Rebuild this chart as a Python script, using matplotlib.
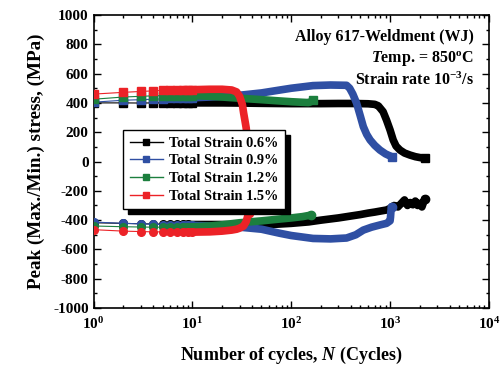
#!/usr/bin/env python3
"""
Peak (max/min) stress vs number of cycles for Alloy 617 weldment at 850 C.
Writes out.png.
"""

import matplotlib

matplotlib.use("Agg")
import matplotlib.pyplot as plt  # noqa: E402
from matplotlib.lines import Line2D  # noqa: E402
from matplotlib.ticker import MultipleLocator, LogLocator  # noqa: E402

# --- data ---
labels = ["Total Strain 0.6%", "Total Strain 0.9%", "Total Strain 1.2%", "Total Strain 1.5%"]
colors = ["#000000", "#2f4fa3", "#1c7f3e", "#ec2227"]

# 0.6 %
n_06_max = [1, 2, 3, 4, 5, 6, 7, 8, 9, 10, 15, 20, 30, 50, 70, 100, 150, 200, 300, 400, 500,
            600, 700, 760, 850, 920, 1000, 1075, 1150, 1260, 1400, 1590, 1800, 2000, 2240]
s_06_max = [400, 400, 399, 400, 400, 400, 400, 400, 400, 400, 400, 400, 399, 397, 396, 395, 395,
            395, 396, 396, 395, 394, 390, 380, 340, 283, 215, 147, 105, 78, 58, 44, 33, 27, 22]
n_06_min = [1, 2, 3, 4, 5, 6, 7, 8, 9, 10, 15, 20, 30, 50, 70, 100, 150, 200, 300, 400, 500,
            600, 700, 800, 920, 1000, 1100, 1200, 1300, 1400, 1500, 1600, 1700, 1800, 1900,
            2000, 2100, 2240]
s_06_min = [-418, -422, -425, -426, -427, -428, -428, -429, -429, -430, -430, -430, -430, -430,
            -428, -422, -412, -400, -385, -372, -362, -352, -345, -338, -331, -320, -300, -310,
            -285, -262, -300, -280, -295, -270, -300, -285, -310, -255]

# 0.9 %
n_09_max = [1, 2, 3, 4, 5, 6, 7, 8, 9, 10, 15, 20, 30, 50, 77, 100, 166, 250, 363, 390, 420,
            458, 500, 536, 580, 628, 700, 790, 900, 1035]
s_09_max = [405, 418, 422, 425, 428, 430, 431, 432, 433, 435, 440, 445, 452, 468, 488, 500, 518,
            522, 520, 500, 460, 399, 310, 238, 185, 147, 110, 78, 52, 33]
n_09_min = [1, 2, 3, 4, 5, 6, 7, 8, 9, 10, 15, 20, 30, 50, 77, 100, 166, 250, 363, 450, 536,
            650, 800, 920, 1000, 1010, 1020, 1035]
s_09_min = [-413, -422, -425, -428, -430, -432, -433, -434, -435, -436, -440, -443, -448, -462,
            -490, -505, -525, -528, -522, -500, -468, -448, -432, -422, -405, -380, -340, -308]

# 1.2 %
n_12_max = [1, 2, 3, 4, 5, 6, 7, 8, 9, 10, 15, 20, 30, 50, 70, 100, 130, 150, 160, 167]
s_12_max = [425, 440, 445, 448, 450, 450, 450, 450, 450, 450, 445, 440, 432, 422, 415, 408, 404,
            402, 410, 420]
n_12_min = [1, 2, 3, 4, 5, 6, 7, 8, 9, 10, 15, 20, 30, 50, 70, 100, 130, 160]
s_12_min = [-440, -445, -447, -448, -448, -448, -448, -447, -447, -446, -440, -432, -418, -405,
            -395, -385, -376, -365]

# 1.5 %
n_15_max = [1, 2, 3, 4, 5, 6, 7, 8, 9, 10, 15, 20, 25, 28, 30, 32, 33, 34, 35, 36]
s_15_max = [460, 472, 478, 482, 485, 487, 488, 490, 490, 490, 493, 493, 488, 475, 445, 390, 330,
            280, 230, 150]
n_15_min = [1, 2, 3, 4, 5, 6, 7, 8, 9, 10, 15, 20, 25, 28, 30, 33, 35, 37]
s_15_min = [-465, -475, -478, -480, -480, -481, -481, -482, -482, -482, -480, -475, -468, -462,
            -455, -440, -410, -352]

series_max = [(n_06_max, s_06_max), (n_09_max, s_09_max), (n_12_max, s_12_max), (n_15_max, s_15_max)]
series_min = [(n_06_min, s_06_min), (n_09_min, s_09_min), (n_12_min, s_12_min), (n_15_min, s_15_min)]

SERIF = ["Liberation Serif", "DejaVu Serif"]
plt.rcParams["font.family"] = SERIF
plt.rcParams["font.weight"] = "bold"
plt.rcParams["axes.unicode_minus"] = False
plt.rcParams["mathtext.fontset"] = "custom"
plt.rcParams["mathtext.rm"] = "Liberation Serif:bold"
plt.rcParams["mathtext.it"] = "Liberation Serif:bold:italic"
plt.rcParams["mathtext.bf"] = "Liberation Serif:bold"


def draw_series(ax, n, s, color, marker):
    # separate markers only where cycles are still sparse (N <= 10)
    sparse_n = [x for x in n if x <= 10]
    sparse_s = [y for x, y in zip(n, s) if x <= 10]
    ax.plot(sparse_n, sparse_s, color=color, lw=0.8, marker=marker, ms=5.5,
            mec=color, mfc=color, zorder=3)
    # after that the dense markers merge into a thick band
    dense_n = [x for x in n if x >= 8]
    dense_s = [y for x, y in zip(n, s) if x >= 8]
    ax.plot(dense_n, dense_s, color=color, lw=5.5, solid_capstyle="round",
            solid_joinstyle="round", zorder=3)
    # last recorded cycle
    ax.plot(n[-1:], s[-1:], ls="none", marker=marker, ms=6, mec=color, mfc=color, zorder=3)


fig = plt.figure(figsize=(5.03, 3.65), dpi=100)
ax = fig.add_axes([0.186, 0.156, 0.786, 0.803])

for (n, s), c in zip(series_max, colors):
    draw_series(ax, n, s, c, "s")
for (n, s), c in zip(series_min, colors):
    draw_series(ax, n, s, c, "o")

ax.set_xscale("log")
ax.set_xlim(1, 1e4)
ax.set_ylim(-1000, 1000)
ax.yaxis.set_major_locator(MultipleLocator(200))
ax.yaxis.set_minor_locator(MultipleLocator(100))
ax.xaxis.set_major_locator(LogLocator(base=10, numticks=10))
ax.xaxis.set_minor_locator(LogLocator(base=10, subs=range(2, 10), numticks=20))
ax.tick_params(which="both", direction="in", top=True, right=True, width=1.0)
ax.tick_params(which="major", length=5, labelsize=11)
ax.tick_params(axis="x", which="major", pad=6)
ax.tick_params(which="minor", length=2.5)
for lab in ax.get_yticklabels():
    lab.set_fontweight("bold")
for sp in ax.spines.values():
    sp.set_linewidth(1.2)

ax.set_xlabel("Number of cycles, $\\mathit{N}$ (Cycles)", fontsize=13, fontweight="bold", labelpad=9)
ax.set_ylabel("Peak (Max./Min.) stress, (MPa)", fontsize=13.8, fontweight="bold", labelpad=6)

ax.text(0.962, 0.925, "Alloy 617-Weldment (WJ)", transform=ax.transAxes, ha="right",
        va="center", fontsize=11.5, fontweight="bold")
ax.text(0.962, 0.848, "$\\mathit{T}$emp. = 850$^{\\mathrm{o}}$C", transform=ax.transAxes, ha="right",
        va="center", fontsize=11.5, fontweight="bold")
ax.text(0.962, 0.778, "Strain rate 10$^{-3}$/s", transform=ax.transAxes, ha="right",
        va="center", fontsize=11.5, fontweight="bold")

handles = [Line2D([], [], color=c, lw=1, marker="s", ms=5, mec=c, mfc=c) for c in colors]
leg = ax.legend(handles, labels, loc="upper left", bbox_to_anchor=(0.075, 0.607),
                borderaxespad=0, fontsize=10.4, frameon=True, fancybox=False, edgecolor="black",
                shadow={"color": "black", "alpha": 1, "ox": 3.5, "oy": -3.5},
                handlelength=2.3, handletextpad=0.4, borderpad=0.45, labelspacing=0.32)
leg.get_frame().set_linewidth(1.0)
leg.set_zorder(10)
for t in leg.get_texts():
    t.set_fontweight("bold")

fig.savefig("out.png", dpi=100)
